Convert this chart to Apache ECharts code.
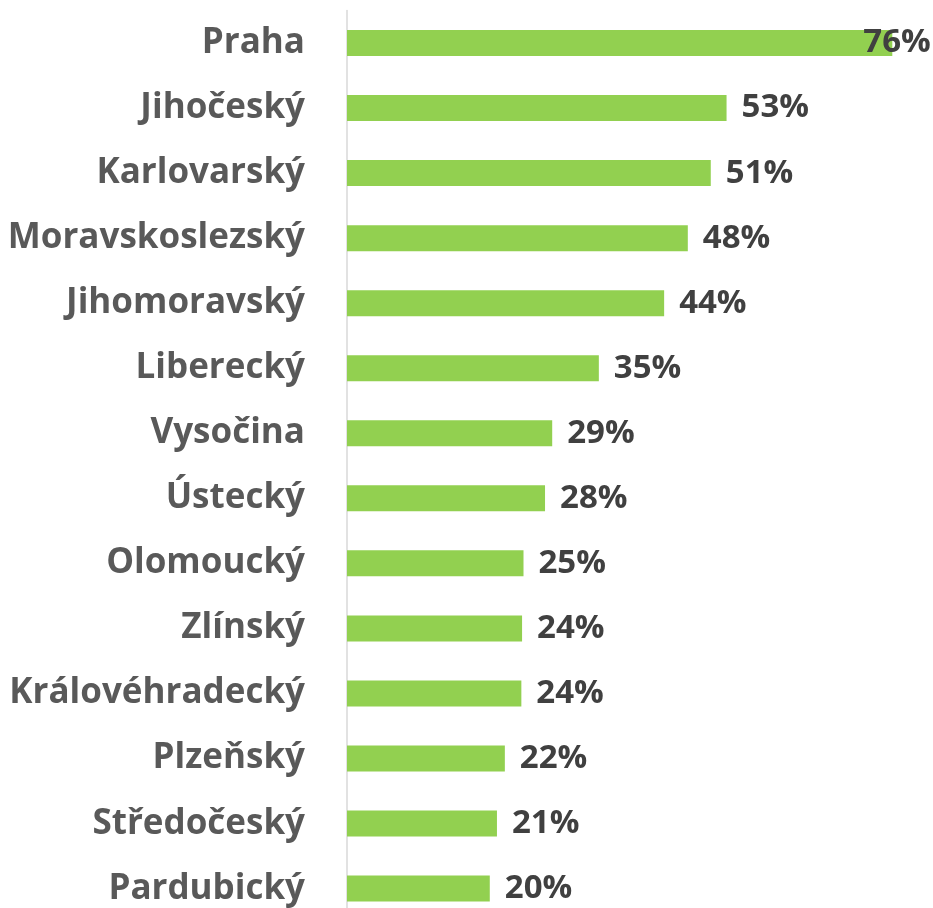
<!DOCTYPE html>
<html>
<head>
<meta charset="utf-8">
<script src="https://cdn.jsdelivr.net/npm/echarts@6/dist/echarts.min.js"></script>
<style>
  html, body { margin: 0; padding: 0; background: #fff; }
  #container { width: 933px; height: 908px; }
</style>
</head>
<body>
<div id="container"></div>
<script>
const kraje = [
  "Praha", "Jihočeský", "Karlovarský", "Moravskoslezský", "Jihomoravský",
  "Liberecký", "Vysočina", "Ústecký", "Olomoucký", "Zlínský",
  "Královéhradecký", "Plzeňský", "Středočeský", "Pardubický"
];
const podil = [76, 52.9, 50.7, 47.5, 44.2, 35.1, 28.6, 27.6, 24.6, 24.4, 24.3, 22.0, 20.9, 19.9];

const fontFamily = "'Open Sans', sans-serif";

const myChart = echarts.init(document.getElementById("container"), null, {
  renderer: "canvas",
});

const seriesData = podil.map((v, i) => {
  const item = { value: v };
  // první popisek Excel posunul dovnitř grafu
  if (i === 0) {
    item.label = { offset: [-44, 0] };
  }
  return item;
});

myChart.setOption({
  animation: false,
  // spodní řádek je oříznutý okrajem obrázku
  grid: {
    left: 347,
    width: 574,
    top: 10.5,
    height: 910.6,
    outerBoundsMode: "none",
    containLabel: false,
  },
  xAxis: {
    type: "value",
    min: 0,
    max: 80,
    show: false,
  },
  yAxis: {
    type: "category",
    inverse: true,
    data: kraje,
    axisLine: { show: true, lineStyle: { color: "#d9d9d9", width: 1.5 } },
    axisTick: { show: false },
    axisLabel: {
      margin: 42,
      color: "#595959",
      fontSize: 35,
      fontWeight: "bold",
      fontFamily: fontFamily,
    },
  },
  series: [
    {
      type: "bar",
      data: seriesData,
      barWidth: 26,
      itemStyle: { color: "#92d050" },
      label: {
        show: true,
        position: "right",
        distance: 15,
        color: "#404040",
        fontSize: 33,
        fontWeight: "bold",
        fontFamily: fontFamily,
        formatter: (p) => Math.round(p.value) + "%",
      },
    },
  ],
});

window.addEventListener("resize", myChart.resize);
</script>
</body>
</html>
